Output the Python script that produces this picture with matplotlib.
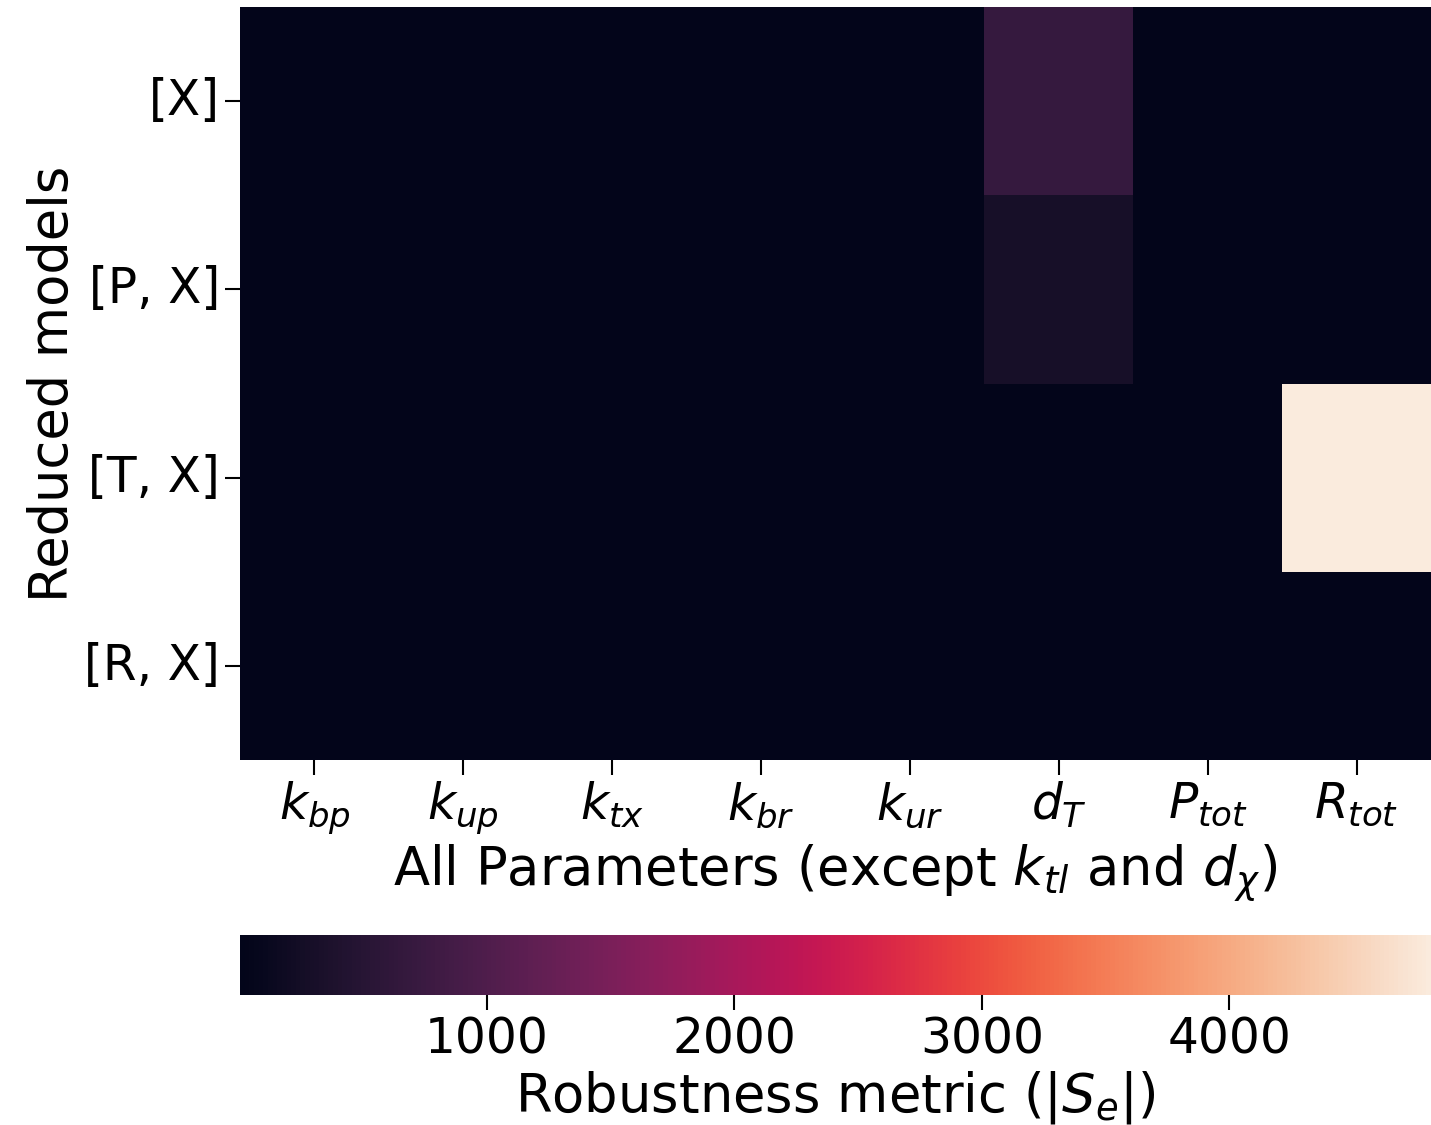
import numpy as np
import matplotlib
matplotlib.use('Agg')
import matplotlib.pyplot as plt
import seaborn as sns

# Robustness metric values
models = ['[X]', '[P, X]', '[T, X]', '[R, X]']
params = [r'$k_{bp}$', r'$k_{up}$', r'$k_{tx}$', r'$k_{br}$',
          r'$k_{ur}$', r'$d_T$', r'$P_{tot}$', r'$R_{tot}$']
row_X = [2, 1, 3, 1, 2, 680, 1, 2]
row_PX = [1, 1, 2, 1, 1, 300, 1, 1]
row_TX = [2, 1, 2, 1, 1, 3, 2, 4816]
row_RX = [1, 1, 1, 1, 1, 2, 1, 1]

values = np.array([row_X, row_PX, row_TX, row_RX], dtype=float)

fig = plt.figure(figsize=(14.31, 11.25), dpi=100)
ax = fig.add_axes([0.1677, 0.3244, 0.8323, 0.6693])
cax = fig.add_axes([0.1677, 0.1156, 0.8323, 0.0533])

sns.heatmap(values, cmap='rocket', ax=ax, cbar_ax=cax,
            cbar_kws={'orientation': 'horizontal'},
            xticklabels=params, yticklabels=models)

ax.tick_params(axis='both', labelsize=35, length=11, width=1.5)
ax.set_yticklabels(models, rotation=0)
ax.set_xticklabels(params, rotation=0)
ax.set_xlabel(r'All Parameters (except $k_{tl}$ and $d_{\chi}$)', fontsize=38)
ax.set_ylabel('Reduced models', fontsize=38)

cax.tick_params(labelsize=35, length=11, width=1.5)
cax.set_xticks([1000, 2000, 3000, 4000])
cax.set_xlabel(r'Robustness metric ($|S_e|$)', fontsize=38)

fig.savefig('out.png', dpi=100)
